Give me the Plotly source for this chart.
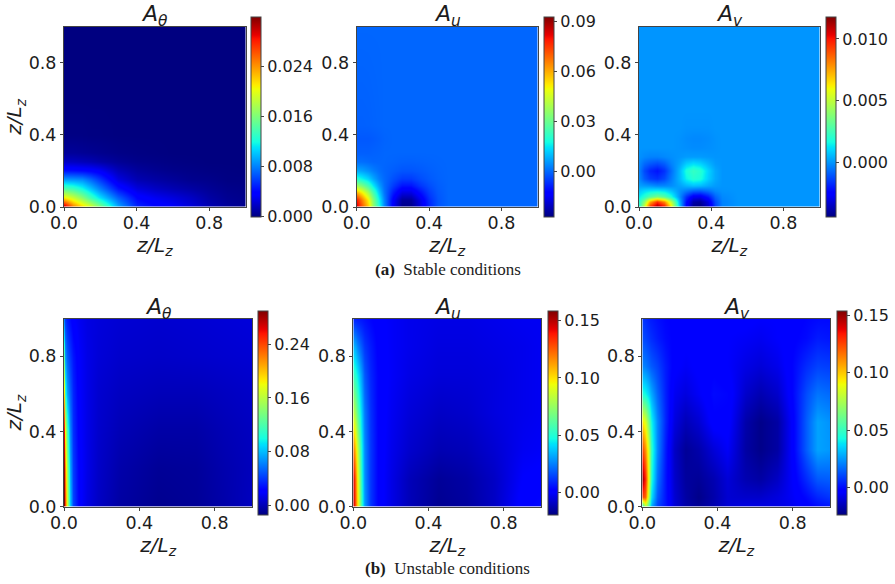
import numpy as np
import plotly.graph_objects as go

FIG_W, FIG_H = 895, 584

# Stable case: A_theta, in units of 1e-3
a_theta_x = [0, .05, .1, .15, .2, .3, .4, .5, .6, .7, .8, .9, 1]
a_theta_y = [0, .05, .1, .15, .2, .25, .3, .4, .6, 1]
a_theta_z = [
    [31.5, 25.5, 22.5, 20, 16.5, 9.5, 5.2, 4.2, 3.6, 2.6, 1.5, .8, .4],
    [21, 19, 16.5, 13.5, 11, 7, 4, 3.2, 2.6, 1.9, 1, .5, .3],
    [14.3, 13.5, 12, 10, 8, 4.5, 2.6, 1.9, 1.4, 1, .6, .3, .2],
    [9, 8.8, 8.5, 7.2, 5.7, 2.7, 1.4, 1, .7, .4, .3, .1, .1],
    [4.5, 4.4, 4.2, 3.9, 3.4, 1.6, .8, .5, .3, .2, .1, .05, 0],
    [1.9, 1.8, 1.6, 1.4, 1.1, .6, .3, .2, .1, .05, 0, 0, 0],
    [.7, .7, .6, .5, .4, .2, .1, .05, 0, 0, 0, 0, 0],
    [.1, .1, .1, .05, .05, 0, 0, 0, 0, 0, 0, 0, 0],
    [0, 0, 0, 0, 0, 0, 0, 0, 0, 0, 0, 0, 0],
    [0, 0, 0, 0, 0, 0, 0, 0, 0, 0, 0, 0, 0],
]

# Stable case: A_u, in units of 1e-3
a_u_x = [0, .03, .06, .09, .12, .15, .2, .25, .3, .35, .4, .45, .5, 1]
a_u_y = [0, .04, .08, .12, .16, .2, .25, .3, .38, .45, 1]
a_u_z = [
    [85, 72, 58, 38, 20, 5, -14, -26, -26, -18, -8, -2, 0, 0],
    [78, 66, 52, 34, 17, 4, -13, -24, -24, -16, -7, -2, 0, 0],
    [60, 52, 40, 26, 12, 2, -9, -17, -17, -11, -5, -1.5, 0, 0],
    [38, 33, 25, 16, 7, 1, -5, -10, -10, -6, -3, -1, 0, 0],
    [20, 17, 13, 8, 3, .5, -2.5, -5, -5, -3, -1.5, -.5, 0, 0],
    [8, 7, 5, 3, 1, 0, -1, -2, -2, -1.5, -.8, -.3, 0, 0],
    [1, 1, .5, 0, 0, 0, -.2, -.6, -.7, -.5, -.3, -.1, 0, 0],
    [-.8, -.8, -.8, -.5, -.3, 0, 0, 0, 0, 0, 0, 0, 0, 0],
    [-1.6, -1.6, -1.6, -1.3, -.8, -.3, 0, 0, 0, 0, 0, 0, 0, 0],
    [-.7, -.7, -.6, -.4, -.2, 0, 0, 0, 0, 0, 0, 0, 0, 0],
    [0, 0, 0, 0, 0, 0, 0, 0, 0, 0, 0, 0, 0, 0],
]

# Stable case: A_v, in units of 1e-3
a_v_x = [0, .03, .06, .1, .14, .18, .22, .26, .3, .34, .38, .42, .46, .55, 1]
a_v_y = [0, .03, .06, .09, .12, .16, .2, .24, .28, .33, .38, .44, .55, 1]
a_v_z = [
    [2, 5.5, 10, 11.8, 10.5, 6.5, 1, -2.5, -4.2, -4.4, -3.4, -1.4, -.3, 0, 0],
    [2, 4, 7.5, 9.5, 8, 4.8, .6, -2.2, -3.8, -4, -3, -1.2, -.3, 0, 0],
    [1.4, 2, 3, 3.6, 3, 1.8, 0, -1.6, -2.7, -2.8, -2, -.8, -.2, 0, 0],
    [.8, 1.1, 1.3, 1.4, 1.2, .7, 0, -.4, -.8, -.9, -.6, -.2, -.05, 0, 0],
    [.2, .1, 0, -.2, -.2, -.1, .2, .5, .7, .6, .3, .1, 0, 0, 0],
    [-.2, -.9, -1.4, -1.6, -1.2, -.4, .5, 1.5, 2, 1.8, .9, .3, 0, 0, 0],
    [-.3, -1.2, -1.8, -2.1, -1.6, -.6, .5, 1.8, 2.3, 2, 1, .3, 0, 0, 0],
    [-.2, -.7, -1, -1.2, -.9, -.3, .2, .9, 1.2, 1, .5, .1, 0, 0, 0],
    [-.05, -.2, -.3, -.3, -.2, -.1, 0, .1, .1, .1, .05, 0, 0, 0, 0],
    [0, 0, 0, 0, 0, 0, -.05, -.1, -.15, -.15, -.1, -.05, 0, 0, 0],
    [0, 0, 0, 0, 0, 0, -.05, -.15, -.2, -.2, -.15, -.05, 0, 0, 0],
    [0, 0, 0, 0, 0, 0, 0, -.05, -.05, -.05, -.05, 0, 0, 0, 0],
    [0, 0, 0, 0, 0, 0, 0, 0, 0, 0, 0, 0, 0, 0, 0],
    [0, 0, 0, 0, 0, 0, 0, 0, 0, 0, 0, 0, 0, 0, 0],
]

# Unstable case: A_theta, in units of 1e-3
b_theta_x = [0, .005, .015, .03, .05, .08, .12, .18, .3, .5, .7, .85, 1]
b_theta_y = [0, .2, .4, .6, .8, 1]
b_theta_z = [
    [290, 240, 170, 85, 45, 22, 12, 4, -5, -10, -8, -3, 3],
    [280, 220, 150, 75, 42, 22, 13, 5, -3, -8, -7, -2, 2],
    [260, 180, 120, 65, 38, 21, 13, 6, 0, -4, -4, 0, 3],
    [190, 110, 75, 52, 35, 20, 13, 7, 3, 1, 1, 3, 5],
    [120, 70, 52, 40, 30, 19, 13, 9, 6, 5, 6, 7, 8],
    [60, 40, 32, 26, 20, 16, 12, 10, 8, 7, 8, 9, 10],
]

# Unstable case: A_u, in units of 1e-3
b_u_x = [0, .01, .02, .04, .06, .09, .13, .2, .3, .45, .6, .75, .9, 1]
b_u_y = [0, .15, .3, .5, .7, .85, 1]
b_u_z = [
    [150, 125, 100, 55, 30, 12, 3, -4, -11, -17, -15, -9, 2, 4],
    [145, 122, 95, 52, 28, 12, 3, -4, -11, -16, -14, -9, 0, 1],
    [120, 105, 85, 48, 27, 12, 3, -3, -8, -12, -11, -7, -2, -1],
    [85, 75, 62, 40, 24, 11, 3, -2, -6, -9, -8, -5, -3, -2],
    [55, 50, 44, 30, 18, 9, 3, -1, -4, -6, -6, -5, -3, -2],
    [35, 32, 26, 18, 12, 7, 2, -1, -3, -5, -5, -4, -3, -2],
    [8, 8, 7, 6, 5, 3, 1, -1, -3, -4, -4, -3, -2, -2],
]

# Unstable case: A_v, in units of 1e-3
b_v_x = [0, .015, .03, .05, .08, .12, .17, .23, .3, .38, .45, .55, .63, .72, .8, .87, .93, 1]
b_v_y = [0, .05, .15, .3, .45, .6, .75, .9, 1]
b_v_z = [
    [40, 75, 55, 28, 10, 2, -10, -17, -20, -16, -10, -8, -8, -8, -6, -3, 0, 2],
    [125, 120, 80, 38, 14, 2, -11, -18, -22, -17, -11, -12, -12, -9, -5, 0, 5, 8],
    [150, 130, 90, 45, 18, 2, -12, -19, -20, -16, -10, -16, -18, -13, -4, 6, 14, 15],
    [125, 110, 85, 48, 22, 3, -13, -20, -17, -10, -5, -18, -22, -18, -3, 15, 27, 25],
    [95, 85, 65, 42, 22, 5, -9, -15, -11, -2, -2, -17, -22, -18, -3, 15, 27, 24],
    [45, 42, 36, 28, 16, 4, -6, -9, -5, 0, -1, -12, -16, -12, -1, 12, 19, 17],
    [22, 20, 17, 14, 10, 3, -3, -5, -3, -2, -4, -8, -10, -7, -1, 6, 10, 9],
    [12, 10, 8, 6, 3, 0, -2, -3, -3, -3, -4, -5, -6, -4, -2, 0, 3, 2],
    [8, 6, 4, 3, 1, -1, -2, -3, -3, -3, -3, -3, -4, -4, -3, -1, 0, 0],
]

titles = ["θ", "u", "v", "θ", "u", "v"]
captions = ["Stable conditions", "Unstable conditions"]
axis_ticks = [0.0, 0.4, 0.8]

# Colour limits (low, high) for each panel
limits = [
    (0.0, 0.0319), (-0.027, 0.093), (-0.0044, 0.0118),
    (-0.014, 0.290), (-0.0198, 0.1588), (-0.0236, 0.154),
]
# Colour bar tick values and their number format
bar_ticks = [
    ([0.0, 0.008, 0.016, 0.024], ".3f"),
    ([0.0, 0.03, 0.06, 0.09], ".2f"),
    ([0.0, 0.005, 0.010], ".3f"),
    ([0.0, 0.08, 0.16, 0.24], ".2f"),
    ([0.0, 0.05, 0.10, 0.15], ".2f"),
    ([0.0, 0.05, 0.10, 0.15], ".2f"),
]

# Panel boxes in pixels: left, right, top, bottom, bar left, bar top, bar bottom
boxes = [
    (64, 245.5, 26.5, 207, 251, 17, 216.5),
    (356.7, 537.7, 26.5, 207, 543.5, 17, 216.5),
    (639, 819.5, 26.5, 207, 825.5, 17, 216.5),
    (64, 252.3, 318.7, 506.5, 258, 311, 514.5),
    (353.3, 541.3, 318.7, 506.5, 547.5, 311, 514.5),
    (642.3, 830.3, 318.7, 506.5, 836.5, 311, 514.5),
]

grids = [
    (a_theta_x, a_theta_y, a_theta_z),
    (a_u_x, a_u_y, a_u_z),
    (a_v_x, a_v_y, a_v_z),
    (b_theta_x, b_theta_y, b_theta_z),
    (b_u_x, b_u_y, b_u_z),
    (b_v_x, b_v_y, b_v_z),
]

# Classic jet colour map as piecewise-linear channels
stops = [0, .11, .125, .34, .35, .375, .64, .65, .66, .89, .91, 1]
red = np.interp(stops, [0, .35, .66, .89, 1], [0, 0, 1, 1, .5])
green = np.interp(stops, [0, .125, .375, .64, .91, 1], [0, 0, 1, 1, 0, 0])
blue = np.interp(stops, [0, .11, .34, .65, 1], [.5, 1, 1, 0, 0])
jet = [
    [s, f"rgb({r * 255:.0f},{g * 255:.0f},{b * 255:.0f})"]
    for s, r, g, b in zip(stops, red, green, blue)
]

INK = "#1c1c1c"
EDGE = "#444444"
TICK_FONT = dict(family="DejaVu Sans", size=17.5, color=INK)
BAR_FONT = dict(family="DejaVu Sans", size=16, color=INK)
LABEL_FONT = dict(family="DejaVu Sans", size=20, color=INK)
LABEL = "<i>z/L</i><sub><i>z</i></sub>"

fig = go.Figure()
annotations = []

for i, ((x, y, z), (lo, hi), (ticks, fmt), box) in enumerate(zip(grids, limits, bar_ticks, boxes)):
    left, right, top, bottom, bar_left, bar_top, bar_bottom = box
    suffix = "" if i == 0 else str(i + 1)
    fig.add_trace(go.Heatmap(
        x=x, y=y, z=(np.array(z) * 1e-3).tolist(),
        xaxis=f"x{suffix}", yaxis=f"y{suffix}",
        zsmooth="best", zmin=lo, zmax=hi, colorscale=jet,
        colorbar=dict(
            x=bar_left / FIG_W, xanchor="left", xpad=0,
            y=1 - (bar_top + bar_bottom) / 2 / FIG_H, yanchor="middle", ypad=0,
            len=bar_bottom - bar_top, lenmode="pixels",
            thickness=10, thicknessmode="pixels",
            outlinecolor=EDGE, outlinewidth=1,
            tickmode="array", tickvals=ticks, ticktext=[format(t, fmt) for t in ticks],
            ticks="outside", ticklen=3, tickwidth=1, tickcolor=EDGE,
            tickfont=BAR_FONT,
        ),
    ))
    fig.update_layout({
        f"xaxis{suffix}": dict(
            domain=[left / FIG_W, right / FIG_W], range=[0, 1], anchor=f"y{suffix}",
            tickmode="array", tickvals=axis_ticks, ticktext=[f"{t:.1f}" for t in axis_ticks],
            ticks="outside", ticklen=3, tickcolor=EDGE, tickfont=TICK_FONT, ticklabelstandoff=-3,
            showgrid=False, zeroline=False, showline=True, linecolor=EDGE, linewidth=1, mirror=True,
            title=dict(text=LABEL, font=LABEL_FONT, standoff=0),
        ),
        f"yaxis{suffix}": dict(
            domain=[1 - bottom / FIG_H, 1 - top / FIG_H], range=[0, 1], anchor=f"x{suffix}",
            tickmode="array", tickvals=axis_ticks, ticktext=[f"{t:.1f}" for t in axis_ticks],
            ticks="outside", ticklen=3, tickcolor=EDGE, tickfont=TICK_FONT,
            showgrid=False, zeroline=False, showline=True, linecolor=EDGE, linewidth=1, mirror=True,
            title=dict(text=LABEL if i % 3 == 0 else "", font=LABEL_FONT, standoff=0),
        ),
    })
    annotations.append(dict(
        xref="paper", yref="paper",
        x=(left + right) / 2 / FIG_W, y=1 - (top + 6) / FIG_H,
        xanchor="center", yanchor="bottom", showarrow=False,
        text=f"<i>A</i><sub><i>{titles[i]}</i></sub>",
        font=dict(family="DejaVu Sans", size=22, color=INK),
    ))

for tag, caption, py in zip("ab", captions, (269, 568)):
    annotations.append(dict(
        xref="paper", yref="paper", x=0.5, y=1 - py / FIG_H,
        xanchor="center", yanchor="middle", showarrow=False,
        text=f"<b>({tag})</b>  {caption}",
        font=dict(family="Liberation Serif", size=17, color=INK),
    ))

fig.update_layout(
    width=FIG_W, height=FIG_H,
    margin=dict(l=0, r=0, t=0, b=0, autoexpand=False),
    paper_bgcolor="white", plot_bgcolor="white",
    annotations=annotations, showlegend=False,
)

fig.write_html("out.html")
